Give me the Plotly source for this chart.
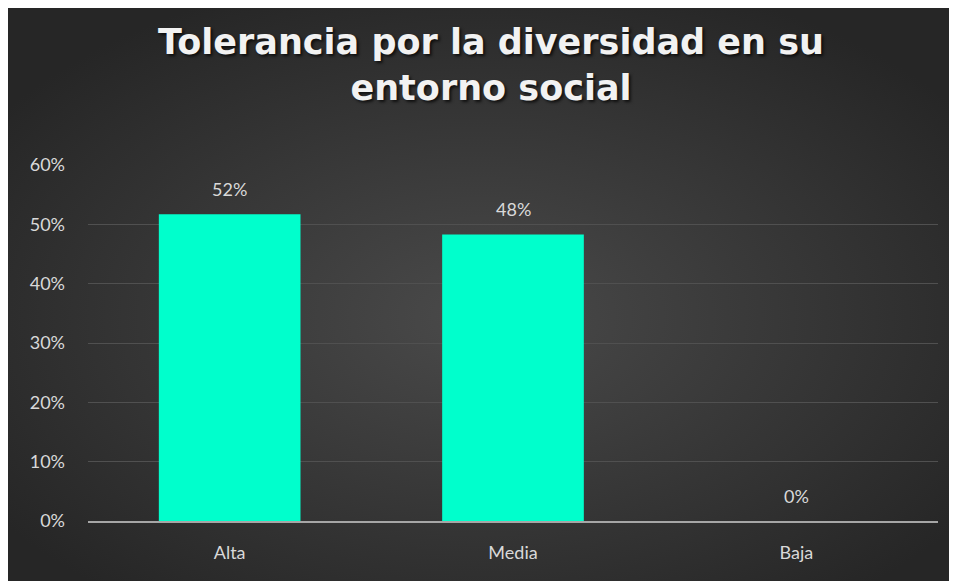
import base64
import plotly.graph_objects as go

categories = ["Alta", "Media", "Baja"]
values = [0.517, 0.483, 0.0]
tick_vals = [0, 0.1, 0.2, 0.3, 0.4, 0.5, 0.6]
tick_text = ["0%", "10%", "20%", "30%", "40%", "50%", "60%"]
title_text = "Tolerancia por la diversidad en su<br>entorno social"

# page body has an 8px margin, so the figure is drawn at (8, 8)
W, H = 949, 573
ML, MR, MT, MB = 80, 19, 157, 60
pw, ph = W - ML - MR, H - MT - MB

svg = (
    '<svg xmlns="http://www.w3.org/2000/svg" width="949" height="573" '
    'viewBox="0 0 949 573" preserveAspectRatio="none">'
    '<defs><radialGradient id="g" cx="50%" cy="54%" r="62%">'
    '<stop offset="0%" stop-color="#4a4a4a"/>'
    '<stop offset="100%" stop-color="#262626"/>'
    '</radialGradient></defs>'
    '<rect x="0" y="0" width="949" height="573" fill="url(#g)"/></svg>'
)
src = "data:image/svg+xml;base64," + base64.b64encode(svg.encode()).decode()

label_color = "#d9d9d9"
font_fam = "Lato, 'Open Sans', sans-serif"

fig = go.Figure()
fig.add_trace(go.Bar(
    x=categories, y=values,
    marker=dict(color="#00ffcc", line=dict(width=0)),
    width=0.5,
    hoverinfo="skip",
))

for c, v in zip(categories, values):
    fig.add_annotation(
        x=c, y=v, xref="x", yref="y",
        text=f"{v:.0%}", showarrow=False,
        yanchor="bottom", yshift=12,
        font=dict(size=18, color=label_color, family=font_fam),
    )

fig.add_layout_image(dict(
    source=src, xref="paper", yref="paper",
    x=-ML / pw, y=1 + MT / ph, sizex=W / pw, sizey=H / ph,
    xanchor="left", yanchor="top", sizing="stretch", layer="below",
))

fig.update_layout(
    width=W, height=H,
    margin=dict(l=ML, r=MR, t=MT, b=MB),
    paper_bgcolor="#2a2a2a",
    plot_bgcolor="rgba(0,0,0,0)",
    showlegend=False,
    bargap=0.5,
    title=dict(
        text=title_text,
        x=483 / W, xanchor="center", xref="container",
        y=1 - 46 / H, yanchor="middle", yref="container",
        font=dict(size=35, color="#f2f2f2", family="'DejaVu Sans', sans-serif",
                  weight="bold", shadow="2px 2px 3px rgba(0,0,0,0.7)"),
    ),
    xaxis=dict(
        showgrid=False, showline=True, linecolor="#a6a6a6", linewidth=2,
        ticks="", tickfont=dict(size=18, color=label_color, family=font_fam),
        ticklabelstandoff=14, fixedrange=True,
    ),
    yaxis=dict(
        range=[0, 0.6], tickvals=tick_vals, ticktext=tick_text,
        showgrid=True, gridcolor="#505050", gridwidth=1,
        zeroline=False, showline=False, ticks="",
        tickfont=dict(size=18, color=label_color, family=font_fam),
        ticklabelstandoff=22, fixedrange=True,
    ),
)

fig.write_html("out.html")
